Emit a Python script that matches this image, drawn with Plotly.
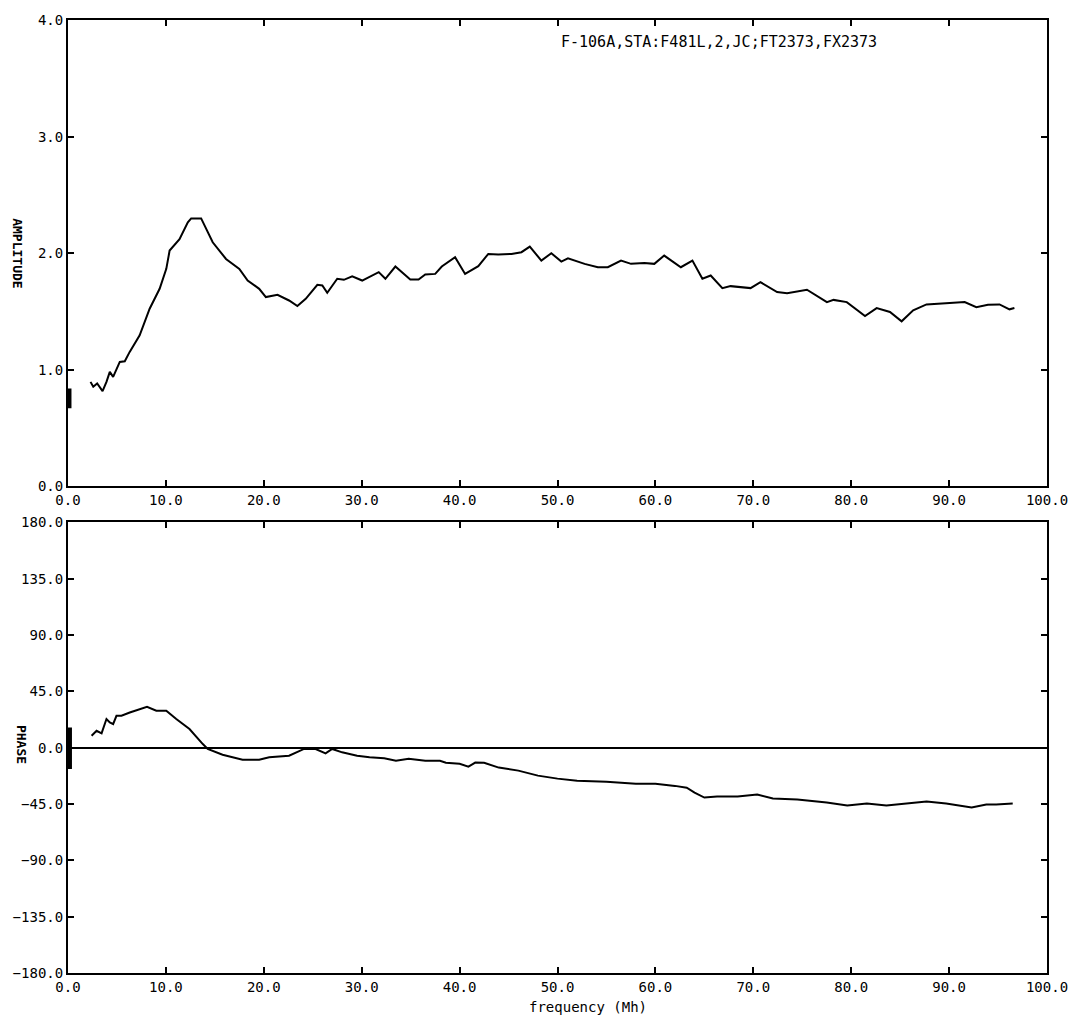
import plotly.graph_objects as go

# ---- data: amplitude ----
amp_freq = [2.3, 2.58, 2.98, 3.53, 3.93, 4.27, 4.61, 5.29, 5.8, 6.3, 7.32, 8.34, 9.36, 10.04, 10.38,
            11.39, 12.24, 12.58, 13.6, 14.78, 16.14, 17.5, 18.35, 19.53, 20.21, 21.4, 22.58, 23.43,
            24.28, 25.47, 25.98, 26.48, 27.5, 28.18, 29.03, 30.05, 31.74, 32.42, 33.44, 34.96, 35.81,
            36.49, 37.51, 38.18, 39.54, 40.56, 41.91, 42.93, 43.95, 45.3, 46.32, 47.17, 48.35, 49.37,
            50.39, 51.07, 52.77, 54.12, 55.14, 56.49, 57.51, 58.87, 59.89, 60.9, 62.6, 63.78, 64.8,
            65.65, 66.84, 67.68, 69.72, 70.73, 72.43, 73.45, 75.48, 77.52, 78.2, 79.55, 81.41, 82.6,
            83.96, 85.15, 86.33, 87.69, 90.06, 91.59, 92.78, 93.97, 95.15, 96.17, 96.67]
amp_vals = [0.897, 0.855, 0.883, 0.818, 0.897, 0.983, 0.94, 1.068, 1.074, 1.154, 1.296, 1.524, 1.695,
            1.866, 2.023, 2.12, 2.265, 2.299, 2.299, 2.094, 1.951, 1.866, 1.766, 1.695, 1.624, 1.644,
            1.595, 1.547, 1.609, 1.729, 1.724, 1.661, 1.781, 1.772, 1.803, 1.766, 1.838, 1.781, 1.886,
            1.775, 1.775, 1.818, 1.823, 1.886, 1.966, 1.823, 1.889, 1.994, 1.989, 1.994, 2.009, 2.057,
            1.937, 2.0, 1.929, 1.957, 1.909, 1.88, 1.88, 1.937, 1.909, 1.917, 1.909, 1.98, 1.88, 1.937,
            1.781, 1.809, 1.701, 1.718, 1.701, 1.752, 1.667, 1.658, 1.687, 1.581, 1.6, 1.581, 1.462,
            1.53, 1.496, 1.416, 1.51, 1.561, 1.573, 1.581, 1.538, 1.558, 1.561, 1.519, 1.53]
amp_edge_freq = [0.15, 0.15]
amp_edge_vals = [0.84, 0.67]

# ---- data: phase ----
phase_freq = [2.41, 2.92, 3.43, 3.93, 4.27, 4.61, 4.95, 5.46, 6.31, 7.32, 8.07, 9.02, 10.04, 11.06,
              12.41, 13.77, 14.27, 15.79, 17.83, 19.53, 20.55, 22.58, 24.11, 25.3, 26.31, 26.99,
              28.0, 29.53, 30.8, 32.3, 33.5, 34.8, 36.5, 38.0, 38.6, 40.0, 40.9, 41.6, 42.5, 44.0,
              46.0, 48.0, 50.0, 52.0, 55.0, 58.0, 60.0, 62.0, 63.2, 64.0, 65.0, 66.3, 68.4, 70.4,
              72.0, 74.5, 77.5, 79.6, 81.6, 83.6, 85.7, 87.7, 89.7, 92.3, 93.8, 94.8, 96.5]
phase_vals = [9.56, 13.5, 11.4, 22.9, 20.2, 18.9, 25.5, 25.5, 28.1, 30.8, 32.7, 29.5, 29.5, 22.9,
              14.9, 2.9, -1.0, -5.6, -9.6, -9.6, -7.7, -6.4, -1.0, -1.0, -4.5, -1.0, -3.7, -6.4,
              -7.6, -8.4, -10.4, -8.8, -10.4, -10.4, -12.0, -12.8, -15.1, -11.9, -12.0, -15.9,
              -18.3, -22.3, -24.7, -26.3, -27.1, -28.7, -28.7, -30.5, -32.0, -35.8, -39.8, -39.0,
              -39.0, -37.4, -40.6, -41.4, -43.8, -46.2, -44.6, -46.2, -44.6, -43.0, -44.6, -47.8,
              -45.4, -45.4, -44.6]
phase_edge_freq = [0.2, 0.2]
phase_edge_vals = [16.2, -17.0]

amp_ticks = [0.0, 1.0, 2.0, 3.0, 4.0]
phase_ticks = [-180.0, -135.0, -90.0, -45.0, 0.0, 45.0, 90.0, 135.0, 180.0]
freq_ticks = [0, 10, 20, 30, 40, 50, 60, 70, 80, 90, 100]

title_text = "F-106A,STA:F481L,2,JC;FT2373,FX2373"

FONT = "DejaVu Sans Mono"
line = dict(color="black", width=2)

fig = go.Figure()
fig.add_trace(go.Scatter(x=amp_freq, y=amp_vals, mode="lines", line=line, xaxis="x", yaxis="y"))
fig.add_trace(go.Scatter(x=amp_edge_freq, y=amp_edge_vals, mode="lines",
                         line=dict(color="black", width=4), xaxis="x", yaxis="y"))
fig.add_trace(go.Scatter(x=phase_freq, y=phase_vals, mode="lines", line=line, xaxis="x2", yaxis="y2"))
fig.add_trace(go.Scatter(x=phase_edge_freq, y=phase_edge_vals, mode="lines",
                         line=dict(color="black", width=4), xaxis="x2", yaxis="y2"))

axis_common = dict(showgrid=False, showline=True, linecolor="black", linewidth=2, mirror="ticks",
                   ticks="inside", ticklen=6, tickwidth=1.5, tickcolor="black",
                   tickfont=dict(family=FONT, size=14, color="black"), tickformat=".1f")

fig.update_layout(
    width=1080, height=1019,
    margin=dict(l=68, r=28, t=17, b=46),
    paper_bgcolor="white", plot_bgcolor="white",
    showlegend=False,
    xaxis=dict(domain=[0, 1], range=[0, 100], tickvals=freq_ticks, anchor="y", **axis_common),
    yaxis=dict(domain=[0.5105, 1.0], range=[0, 4], tickvals=amp_ticks, anchor="x",
               zeroline=False, **axis_common),
    xaxis2=dict(domain=[0, 1], range=[0, 100], tickvals=freq_ticks, anchor="y2", **axis_common),
    yaxis2=dict(domain=[0, 0.4728], range=[-180, 180], tickvals=phase_ticks, anchor="x2",
                zeroline=True, zerolinecolor="black", zerolinewidth=2, **axis_common),
    annotations=[
        dict(text=title_text, x=66.5, y=3.81, xref="x", yref="y", showarrow=False,
             font=dict(family=FONT, size=15, color="black"), xanchor="center", yanchor="middle"),
        dict(text="<b>AMPLITUDE</b>", x=-0.051, y=2.0, xref="paper", yref="y", showarrow=False,
             textangle=90, font=dict(family=FONT, size=13, color="black"),
             xanchor="center", yanchor="middle"),
        dict(text="<b>PHASE</b>", x=-0.048, y=3.0, xref="paper", yref="y2", showarrow=False,
             textangle=90, font=dict(family=FONT, size=13, color="black"),
             xanchor="center", yanchor="middle"),
        dict(text="frequency (Mh)", x=53.1, y=-0.036, xref="x2", yref="paper", showarrow=False,
             font=dict(family=FONT, size=14, color="black"), xanchor="center", yanchor="middle"),
    ],
)

fig.write_html("out.html", config={"displayModeBar": False},
               post_script="document.body.style.margin='0';")
